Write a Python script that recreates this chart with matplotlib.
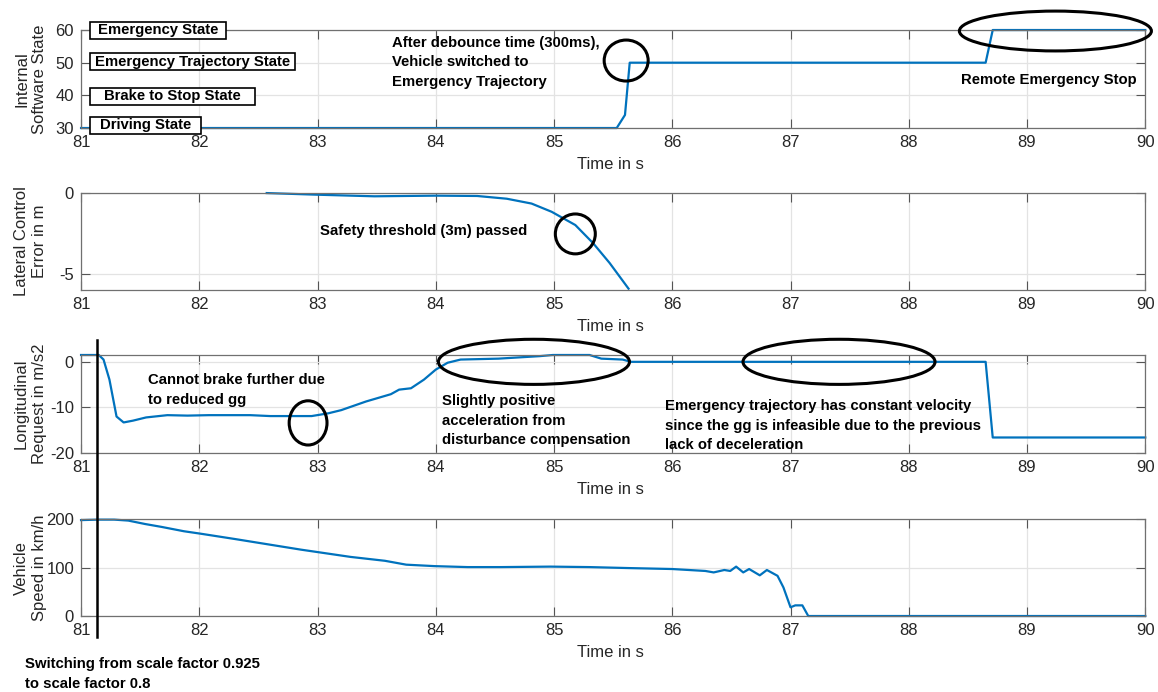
import matplotlib
matplotlib.use('Agg')
from matplotlib import pyplot as plt
from matplotlib.patches import Ellipse
from matplotlib.lines import Line2D
from matplotlib.path import Path
from matplotlib import transforms

plt.rcParams['font.family'] = ['Liberation Sans', 'DejaVu Sans']
plt.rcParams['axes.unicode_minus'] = False

# internal software state
state_t = [81, 85.53, 85.60, 85.64, 88.65, 88.71, 90]
state_v = [30, 30, 34, 50, 50, 60, 60]
state_labels = ['Emergency State', 'Emergency Trajectory State', 'Brake to Stop State', 'Driving State']
state_levels = [60, 50.3, 39.8, 30.9]

# lateral control error
lat_t = [82.57, 82.99, 83.48, 84.0, 84.35, 84.6, 84.81, 84.98, 85.18, 85.33, 85.47, 85.63]
lat_v = [0, -0.1, -0.2, -0.16, -0.18, -0.35, -0.65, -1.16, -1.98, -3.1, -4.33, -5.92]

# longitudinal request
lon_t = [81, 81.15, 81.19, 81.24, 81.3, 81.36, 81.44, 81.55, 81.73, 81.9, 82.08, 82.43, 82.6,
         82.78, 82.95, 83.09, 83.2, 83.41, 83.62, 83.69, 83.79, 83.9, 84.0, 84.1, 84.21, 84.53,
         84.88, 84.99, 85.3, 85.4, 85.58, 85.65, 88.65, 88.71, 90]
lon_v = [1.5, 1.5, 0.5, -3.9, -12.0, -13.3, -12.9, -12.2, -11.7, -11.8, -11.7, -11.7, -11.9,
         -11.9, -11.9, -11.3, -10.6, -8.7, -7.1, -6.1, -5.8, -3.9, -1.7, -0.2, 0.5, 0.7,
         1.25, 1.5, 1.5, 0.7, 0.5, 0, 0, -16.6, -16.6]

# vehicle speed
spd_t = [81, 81.14, 81.28, 81.4, 81.54, 81.68, 81.87, 82.01, 82.3, 82.58, 82.86, 83.0, 83.28,
         83.57, 83.75, 83.99, 84.27, 84.55, 84.97, 85.3, 85.63, 86.0, 86.28, 86.35, 86.44,
         86.49, 86.54, 86.6, 86.65, 86.74, 86.8, 86.89, 86.94, 87.0, 87.04, 87.1, 87.15, 90]
spd_v = [198, 199, 199, 197, 190, 184, 175, 170, 159, 148, 137, 132, 122,
         114, 106, 103, 101, 101, 102, 101, 99, 97, 93, 90, 95,
         93, 102, 90, 97, 84, 95, 83, 59, 18, 22, 22, 0, 0]

switch_t = 81.135

blue = '#0072BD'
txt = '#262626'

fig = plt.figure(figsize=(11.58, 6.92), dpi=100)
left, width = 0.070, 0.919
bottoms = [0.815, 0.581, 0.3454, 0.1098]
heights = [0.1416, 0.140, 0.1416, 0.140]
axes = [fig.add_axes([left, b, width, h]) for b, h in zip(bottoms, heights)]
ax1, ax2, ax3, ax4 = axes

ax1.plot(state_t, state_v, color=blue, lw=1.6, clip_on=False)
ax2.plot(lat_t, lat_v, color=blue, lw=1.6, clip_on=False)
ax3.plot(lon_t, lon_v, color=blue, lw=1.6, clip_on=False)
ax4.plot(spd_t, spd_v, color=blue, lw=1.6, clip_on=False)

ax1.set_ylim(30, 60)
ax1.set_yticks([30, 40, 50, 60])
ax2.set_ylim(-6, 0)
ax2.set_yticks([-5, 0])
ax3.set_ylim(-20, 1.5)
ax3.set_yticks([-20, -10, 0])
ax4.set_ylim(0, 200)
ax4.set_yticks([0, 100, 200])

ylabels = ['Internal\nSoftware State', 'Lateral Control\nError in m',
           'Longitudinal\nRequest in m/s2', 'Vehicle\nSpeed in km/h']
for ax, yl in zip(axes, ylabels):
    ax.set_xlim(81, 90)
    ax.set_xticks(range(81, 91))
    ax.grid(True, color='#e3e3e3', lw=0.9)
    ax.set_axisbelow(True)
    ax.tick_params(direction='in', top=True, right=True, length=6.5, width=0.8,
                   labelsize=12, colors='#555555', labelcolor=txt, pad=5)
    for s in ax.spines.values():
        s.set_color('#707070')
        s.set_linewidth(0.9)
    ax.set_xlabel('Time in s', fontsize=12, color=txt)
    ax.xaxis.set_label_coords(0.497, -0.30)
    ax.set_ylabel(yl, fontsize=12, color=txt, linespacing=1.25)
    ax.yaxis.set_label_coords(-0.032, 0.5)


def ell(ax, x, y, w, h):
    ax.add_patch(Ellipse((x, y), w, h, fill=False, ec='black', lw=2.2, clip_on=False, zorder=5))


def box(hpad, vpad):
    def style(x0, y0, w, h, mutation_size):
        xa, ya, xb, yb = x0 - hpad, y0 - vpad, x0 + w + hpad, y0 + h + vpad
        return Path([(xa, ya), (xb, ya), (xb, yb), (xa, yb), (xa, ya)], closed=True)
    return style


# panel 1 annotations
box_pads = [8, 5, 14, 10]
for lab, lev, hp in zip(state_labels, state_levels, box_pads):
    xx = 81 + (9 + hp) / 1064 * 9
    ax1.text(xx, lev, lab, fontsize=10.7, fontweight='bold', va='center', ha='left',
             bbox=dict(boxstyle=box(hp, 1.5), fc='white', ec='black', lw=1.2), zorder=6)
ax1.text(83.63, 58.3, 'After debounce time (300ms),\nVehicle switched to\nEmergency Trajectory',
         fontsize=10.7, fontweight='bold', va='top', ha='left', linespacing=1.5)
ax1.text(89.93, 44.7, 'Remote Emergency Stop', fontsize=10.7, fontweight='bold', va='center', ha='right')
ell(ax1, 85.61, 50.66, 0.372, 12.55)
ell(ax1, 89.24, 59.7, 1.624, 12.2)

# panel 2 annotations
ax2.text(83.02, -2.35, 'Safety threshold (3m) passed', fontsize=10.7, fontweight='bold',
         va='center', ha='left')
ell(ax2, 85.18, -2.53, 0.338, 2.47)

# panel 3 annotations
ax3.text(81.57, -6.15, 'Cannot brake further due\nto reduced gg', fontsize=10.7, fontweight='bold',
         va='center', ha='left', linespacing=1.5)
ax3.text(84.05, -12.97, 'Slightly positive\nacceleration from\ndisturbance compensation',
         fontsize=10.7, fontweight='bold', va='center', ha='left', linespacing=1.5)
ax3.text(85.94, -14.07, 'Emergency trajectory has constant velocity\nsince the gg is infeasible due to the previous\nlack of deceleration',
         fontsize=10.7, fontweight='bold', va='center', ha='left', linespacing=1.5)
ell(ax3, 82.92, -13.4, 0.32, 9.7)
ell(ax3, 84.83, 0, 1.616, 9.9)
ell(ax3, 87.41, 0, 1.624, 9.9)

# switching marker across panels 3 and 4
trans = transforms.blended_transform_factory(ax4.transData, fig.transFigure)
fig.add_artist(Line2D([switch_t, switch_t], [0.509, 0.0795], transform=trans, color='black', lw=1.8))
fig.text(0.0216, 0.026, 'Switching from scale factor 0.925\nto scale factor 0.8', fontsize=10.7,
         fontweight='bold', va='center', ha='left', linespacing=1.5)

fig.savefig('out.png', dpi=100)
